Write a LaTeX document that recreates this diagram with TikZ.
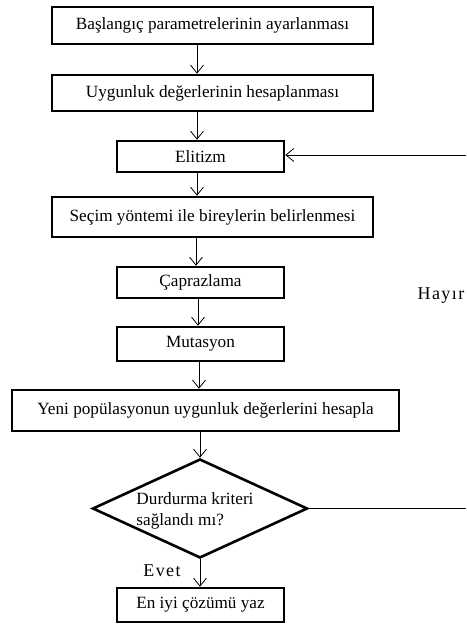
\documentclass[tikz,border=0pt]{standalone}
\usepackage{fontspec}
\setmainfont{Liberation Serif}
\usetikzlibrary{shapes.geometric,arrows.meta}
\begin{document}
\begin{tikzpicture}[x=1pt,y=-1pt,
  box/.style={draw,line width=2.6pt,minimum height=#1,inner sep=0pt,font=\fontsize{17.2}{20}\selectfont},
  arr/.style={line width=0.8pt,-{Straight Barb[length=8pt,width=13pt,line width=0.8pt]}},
  lbl/.style={font=\fontsize{18}{20}\selectfont\addfontfeature{LetterSpace=8},inner sep=0pt}]
\useasboundingbox (0,0) rectangle (466,624);
\node[box=37pt,minimum width=321pt] (b1) at (212.5,25.5) {Başlangıç parametrelerinin ayarlanması};
\node[box=36pt,minimum width=321pt] (b2) at (212.5,93) {Uygunluk değerlerinin hesaplanması};
\node[box=31pt,minimum width=167pt] (b3) at (200.5,156.5) {Elitizm};
\node[box=40pt,minimum width=321pt] (b4) at (212.5,217) {Seçim yöntemi ile bireylerin belirlenmesi};
\node[box=31pt,minimum width=167pt] (b5) at (200.5,282.5) {Çaprazlama};
\node[box=34pt,minimum width=167pt] (b6) at (200.5,344) {Mutasyon};
\node[box=41pt,minimum width=387pt] (b7) at (205.5,410.5) {Yeni popülasyonun uygunluk değerlerini hesapla};
\node[draw,diamond,line width=2.6pt,minimum width=215pt,minimum height=99pt,aspect=2.17,inner sep=0pt] (d) at (200,508.5) {};
\node[align=left,inner sep=0pt,font=\fontsize{17.2}{21}\selectfont] (dt) at (195,511) {Durdurma kriteri\\sağlandı mı?};
\node[box=34pt,minimum width=167pt] (b8) at (200.5,605) {En iyi çözümü yaz};
\node[lbl] (no) at (441,296) {Hayır};
\node[lbl] (yes) at (162,571) {Evet};
\coordinate (fbtop) at (466,155);
\coordinate (fbbot) at (466,508.5);
\draw[arr] (b1.south -| 197,0) -- (b2.north -| 197,0);
\draw[arr] (b2.south -| 197,0) -- (b3.north -| 197,0);
\draw[arr] (b3.south -| 197,0) -- (b4.north -| 197,0);
\draw[arr] (b4.south -| 196,0) -- (b5.north -| 196,0);
\draw[arr] (b5.south -| 198,0) -- (b6.north -| 198,0);
\draw[arr] (b6.south -| 199,0) -- (b7.north -| 199,0);
\draw[arr] (b7.south -| d.north) -- (d.north);
\draw[arr] (d.south) -- (b8.north -| d.south);
\draw[line width=0.8pt] (d.east) -- (fbbot);
\draw[arr] (fbtop) -- (b3.east |- fbtop);
\end{tikzpicture}
\end{document}
